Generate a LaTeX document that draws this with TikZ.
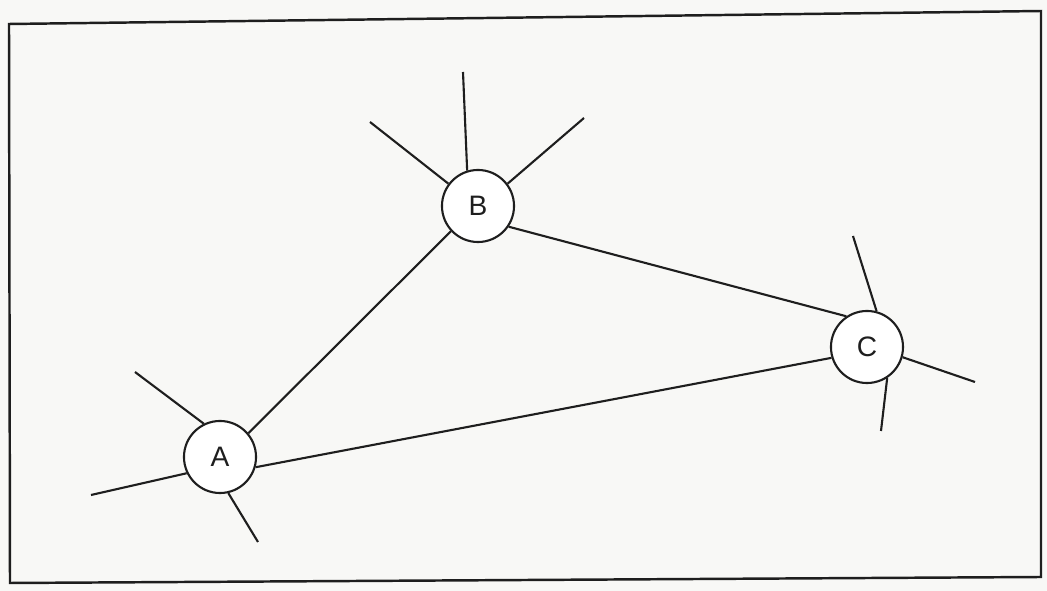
\documentclass[tikz,border=0pt]{standalone}
\usepackage{fontspec}
\setmainfont{Liberation Sans}
\usetikzlibrary{calc}
\definecolor{Paper}{HTML}{F8F8F6}
\definecolor{Ink}{HTML}{1E1E1E}
\tikzset{
  site/.style={circle,draw=Ink,fill=white,line width=.6pt,minimum size=.72cm,inner sep=0pt,font=\fontsize{8}{9}\selectfont,text=Ink},
  link/.style={draw=Ink,line width=.6pt},
  stub/.style={draw=Ink,line width=.6pt},
  frame/.style={draw=Ink,line width=.7pt}
}
\begin{document}
\begin{tikzpicture}[x=.01cm,y=-.01cm]
        \fill[Paper] (0,0) rectangle (1047,591);
        \useasboundingbox (0,0) rectangle (1047,591);
        % scanned frame, slightly skewed
        \coordinate (tl) at (9,24);
        \coordinate (tr) at (1041,11);
        \coordinate (br) at (1041,577);
        \coordinate (bl) at (10,583);
        \draw[frame] (tl) -- (tr) -- (br) -- (bl) -- cycle;
        \node[site] (A) at (220,457) {A};
        \node[site] (B) at (478,206) {B};
        \node[site] (C) at (867,347) {C};
        \draw[link] (A.40) -- (B.223);
        \draw[link] (B.-34) -- (C.124);
        \draw[link] (A.-16) -- (C.197);
        % loose ends
        \coordinate (a1) at (135,372);
        \coordinate (a2) at (91,495);
        \coordinate (a3) at (258,542);
        \coordinate (b1) at (370,122);
        \coordinate (b2) at (463,72);
        \coordinate (b3) at (584,118);
        \coordinate (c1) at (853,236);
        \coordinate (c2) at (975,382);
        \coordinate (c3) at (881,431);
        \draw[stub] (A.116) -- (a1);
        \draw[stub] (A.206) -- (a2);
        \draw[stub] (A.-77) -- (a3);
        \draw[stub] (B.143) -- (b1);
        \draw[stub] (B.107) -- (b2);
        \draw[stub] (B.37) -- (b3);
        \draw[stub] (C.75) -- (c1);
        \draw[stub] (C.-16) -- (c2);
        \draw[stub] (C.-57) -- (c3);
      \end{tikzpicture}
\end{document}
